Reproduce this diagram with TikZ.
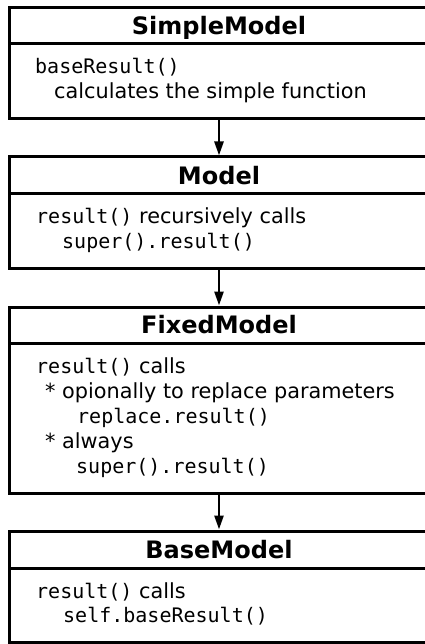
\documentclass[tikz,border=0pt]{standalone}
\usepackage{fontspec}
\setmainfont{DejaVu Sans}
\setmonofont{DejaVu Sans Mono}
\usetikzlibrary{arrows.meta}
\newcommand{\mono}[1]{{\fontsize{20}{25}\selectfont\ttfamily #1}}
\tikzset{
  titlebox/.style={draw, line width=3pt, minimum width=419pt, inner sep=0pt,
    text height=17.5pt, text depth=0pt, font=\fontsize{24}{28}\selectfont\bfseries},
  bodybox/.style={draw, line width=3pt, minimum width=419pt, inner sep=0pt},
  txt/.style={anchor=base west, inner sep=0pt, font=\fontsize{20.8}{25}\selectfont},
  conn/.style={line width=2.5pt, -{Triangle[length=14pt,width=9pt]}}
}
\begin{document}
\begin{tikzpicture}[x=1pt,y=-1pt]
\useasboundingbox (0,0) rectangle (424,644);
% Box 1
\node[titlebox, minimum height=36pt] (h1) at (219,26) {SimpleModel};
\node[bodybox, minimum height=75pt] (b1) at (219,81.5) {};
\node[txt] (l1a) at (35,74) {\mono{baseResult()}};
\node[txt] (l1b) at (54,99) {calculates the simple function};
% Box 2
\node[titlebox, minimum height=37pt] (h2) at (219,175.5) {Model};
\node[bodybox, minimum height=74pt] (b2) at (219,231) {};
\node[txt] (l2a) at (36,223) {\mono{result()} recursively calls};
\node[txt] (l2b) at (62,248) {\mono{super().result()}};
% Box 3
\node[titlebox, minimum height=36pt] (h3) at (219,325) {FixedModel};
\node[bodybox, minimum height=150pt] (b3) at (219,418) {};
\node[txt] (l3a) at (36,373) {\mono{result()} calls};
\node[txt] (l3b) at (45,398) {* opionally to replace parameters};
\node[txt] (l3c) at (77,423) {\mono{replace.result()}};
\node[txt] (l3d) at (45,448) {* always};
\node[txt] (l3e) at (76,473) {\mono{super().result()}};
% Box 4
\node[titlebox, minimum height=37pt] (h4) at (219,549.5) {BaseModel};
\node[bodybox, minimum height=74pt] (b4) at (219,605) {};
\node[txt] (l4a) at (36,598) {\mono{result()} calls};
\node[txt] (l4b) at (63,622) {\mono{self.baseResult()}};
% Connectors
\draw[conn] (b1.south) -- (h2.north);
\draw[conn] (b2.south) -- (h3.north);
\draw[conn] (b3.south) -- (h4.north);
\end{tikzpicture}
\end{document}
